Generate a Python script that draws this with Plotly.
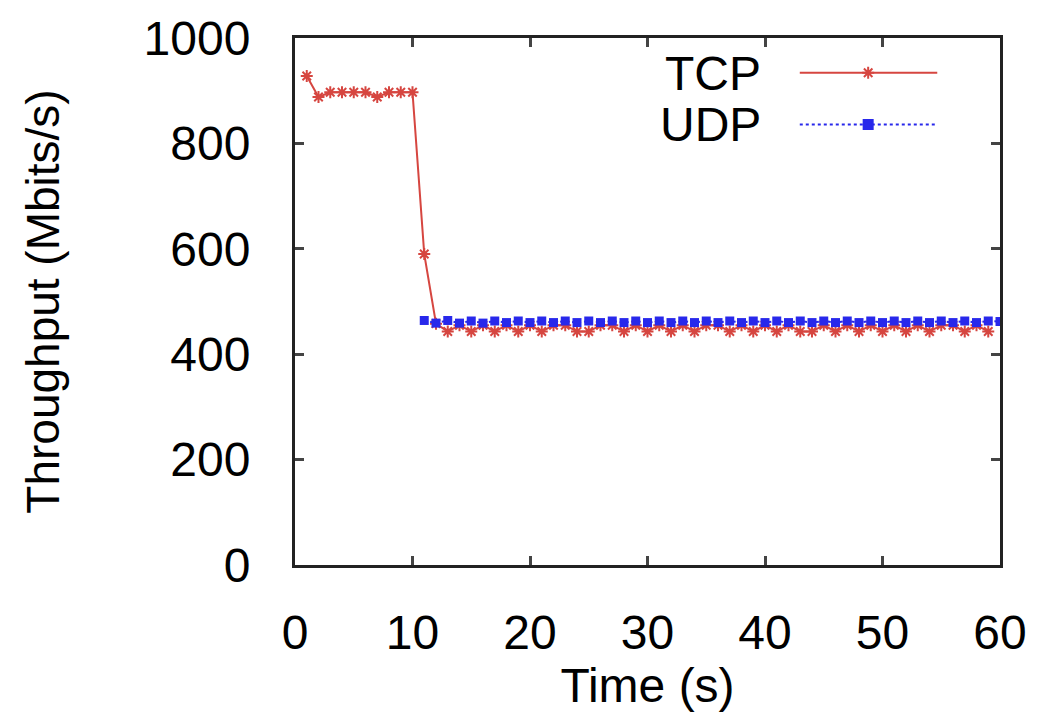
import plotly.graph_objects as go

tcp_x = list(range(1, 60))
tcp_y = [928, 888, 897, 897, 897, 897, 888, 897, 897, 897,
         590, 458, 443, 455, 443, 455, 443, 455, 443, 455,
         443, 455, 455, 443, 443, 455, 455, 443, 455, 443,
         455, 443, 455, 443, 455, 455, 443, 455, 443, 455,
         443, 455, 443, 443, 455, 443, 455, 443, 455, 443,
         455, 443, 455, 443, 455, 455, 443, 455, 443]

udp_x = list(range(11, 61))
udp_y = [464, 459, 464, 459, 463, 459, 463, 460, 463, 460,
         463, 460, 463, 460, 463, 460, 463, 460, 463, 460,
         463, 460, 463, 460, 463, 460, 463, 460, 463, 460,
         463, 460, 463, 460, 463, 460, 463, 460, 463, 460,
         463, 460, 463, 460, 463, 460, 463, 460, 463, 462]

x_ticks = [0, 10, 20, 30, 40, 50, 60]
y_ticks = [0, 200, 400, 600, 800, 1000]
series_names = ["TCP", "UDP"]

RED = "rgb(214,70,64)"
BLUE = "rgb(40,40,235)"
FONT = "Liberation Sans, Arial, sans-serif"

fig = go.Figure()
fig.add_trace(go.Scatter(
    x=tcp_x, y=tcp_y, mode="lines+markers", name=series_names[0],
    line=dict(color=RED, width=2),
    marker=dict(symbol="asterisk-open", size=10, color=RED, line=dict(color=RED, width=2)),
    showlegend=False))
fig.add_trace(go.Scatter(
    x=udp_x, y=udp_y, mode="lines+markers", name=series_names[1],
    line=dict(color=BLUE, width=2, dash="dot"),
    marker=dict(symbol="square", size=9, color=BLUE),
    showlegend=False))

# manual legend (text left of sample) on an overlay axis in [0,1]
leg_rows = [0.934, 0.836]
for name, ry, col, dash, sym, sz in [
        (series_names[0], leg_rows[0], RED, "solid", "asterisk-open", 10),
        (series_names[1], leg_rows[1], BLUE, "dot", "square", 9)]:
    fig.add_trace(go.Scatter(
        x=[0.716, 0.911], y=[ry, ry], mode="lines", xaxis="x2", yaxis="y2",
        line=dict(color=col, width=2, dash=dash), showlegend=False, hoverinfo="skip"))
    fig.add_trace(go.Scatter(
        x=[0.813], y=[ry], mode="markers", xaxis="x2", yaxis="y2",
        marker=dict(symbol=sym, size=sz, color=col, line=dict(color=col, width=2)),
        showlegend=False, hoverinfo="skip"))
    fig.add_annotation(x=0.662, y=ry, xref="x2", yref="y2", text=name,
                       showarrow=False, xanchor="right", yanchor="middle",
                       height=46, borderpad=0,
                       font=dict(family=FONT, size=48, color="black"))

axis_common = dict(showline=True, linecolor="#222", linewidth=3, mirror="ticks",
                   ticks="inside", ticklen=9, tickwidth=3, tickcolor="#444",
                   showgrid=False, zeroline=False,
                   tickfont=dict(family=FONT, size=48, color="black"))

fig.update_layout(
    width=1041, height=727,
    margin=dict(l=295, r=41, t=35, b=162),
    paper_bgcolor="white", plot_bgcolor="white",
    font=dict(family=FONT, color="black"),
    xaxis=dict(range=[0, 60], tickvals=x_ticks, ticklabelstandoff=23,
               title=dict(text="Time (s)", font=dict(family=FONT, size=48), standoff=10),
               **axis_common),
    yaxis=dict(range=[0, 1000], tickvals=y_ticks, ticklabelstandoff=32,
               title=dict(text="Throughput (Mbits/s)", font=dict(family=FONT, size=46), standoff=70),
               **axis_common),
    xaxis2=dict(range=[0, 1], overlaying="x", visible=False),
    yaxis2=dict(range=[0, 1], overlaying="y", visible=False),
)

fig.write_html("out.html")
